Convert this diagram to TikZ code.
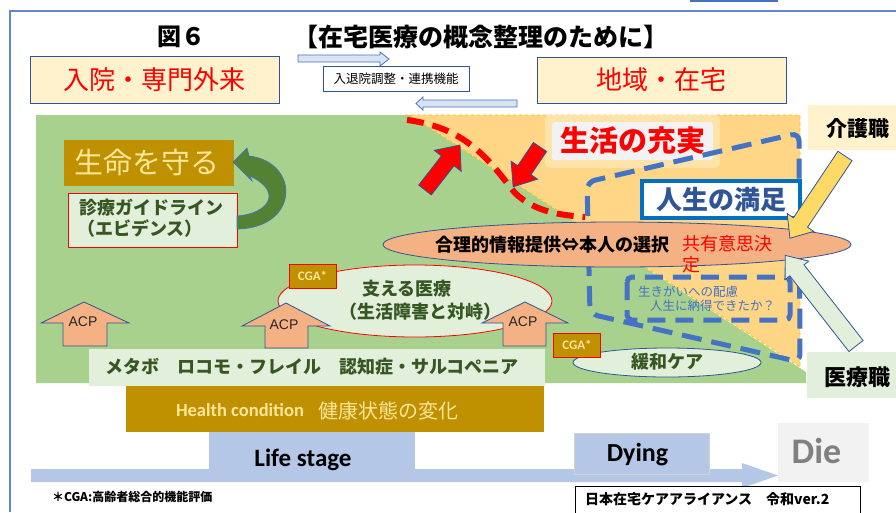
\documentclass[tikz,border=0pt]{standalone}
\usepackage{fontspec}
\setmainfont{Noto Sans CJK JP}
\newfontfamily\calfont{Carlito}
\newfontfamily\arifont{Liberation Sans}
\usetikzlibrary{shapes.geometric}
\newcommand\fsz[1]{\fontsize{#1}{#1}\selectfont}
\newcommand\BlkArr[7]{\begin{scope}[shift={#2},rotate=#3]\draw[#1] (0,-#5) -- ({#4-#7},-#5) -- ({#4-#7},-#6) -- (#4,0) -- ({#4-#7},#6) -- ({#4-#7},#5) -- (0,#5) -- cycle;\end{scope}}
\definecolor{bgGreen}{HTML}{A9D18E}
\definecolor{bgOrange}{HTML}{FFD686}
\definecolor{paleGreen}{HTML}{E2EFDA}
\definecolor{gold}{HTML}{BF9000}
\definecolor{paleYellow}{HTML}{FFE699}
\definecolor{cream}{HTML}{FFF2CC}
\definecolor{salmon}{HTML}{F4B183}
\definecolor{lightBlue}{HTML}{B4C7E7}
\definecolor{midBlue}{HTML}{4472C4}
\definecolor{darkBlue}{HTML}{2F5597}
\definecolor{boxBlue}{HTML}{0070C0}
\definecolor{darkGreen}{HTML}{375623}
\definecolor{arrowGreen}{HTML}{548235}
\definecolor{paleBlue}{HTML}{DAE3F3}
\definecolor{yellowArrow}{HTML}{FFD966}
\definecolor{glow}{HTML}{FFE3A8}
\definecolor{gray95}{HTML}{F2F2F2}
\definecolor{orangeEdge}{HTML}{FFC000}
\begin{document}
\begin{tikzpicture}[x=1pt,y=-1pt,
  every node/.style={inner sep=0pt,outer sep=0pt},
  placebox/.style={draw=darkBlue, fill=cream, line width=0.8pt, text=red, font=\fsz{26}},
  smallarr/.style={draw=midBlue, fill=paleBlue, line width=0.8pt},
  redarr/.style={draw=darkBlue, fill=red, line width=0.8pt},
  acp/.style={draw=darkBlue, fill=salmon, line width=0.8pt},
  acptext/.style={font=\arifont\fsz{14}, text=black!85},
  greentext/.style={font=\fsz{18}\bfseries, text=darkGreen},
  cga/.style={draw=red, fill=gold, line width=0.8pt, minimum width=47, minimum height=24, font=\calfont\fsz{13}\bfseries, text=paleYellow},
  bigdash/.style={midBlue, line width=5pt, dash pattern=on 20pt off 10pt},
  caltext/.style={font=\calfont\fsz{25}\bfseries}]
\useasboundingbox (0,0) rectangle (896,512);
\fill[white] (0,0) rectangle (896,512);

% frame
\draw[midBlue!85, line width=2pt] (10,512) -- (10,11) -- (896,11);
\draw[midBlue, line width=1.6pt] (690,1) -- (778,1);

% titles
\node[font=\fsz{24}\bfseries] (fig6) at (181,37) {図６};
\node[font=\fsz{25}\bfseries] (title) at (481,37) {【在宅医療の概念整理のために】};

\node[placebox, minimum width=249, minimum height=47] (hosp) at (154.5,79.5) {入院・専門外来};
\node[placebox, minimum width=249, minimum height=46] (home) at (661.5,80) {地域・在宅};

\draw[smallarr] (298,55) -- (380,55) -- (380,52) -- (389,59) -- (380,66) -- (380,62) -- (298,62) -- cycle;
\node[draw=darkBlue, fill=white, line width=0.8pt, minimum width=146, minimum height=25, font=\fsz{12.5}] (coord) at (396,79) {入退院調整・連携機能};
\draw[smallarr] (517,100) -- (423,100) -- (423,97) -- (416,103.5) -- (423,110) -- (423,107) -- (517,107) -- cycle;

% regions
\fill[bgGreen] (36,115) -- (410,115) -- (806,372) -- (806,383) -- (36,383) -- cycle;
\fill[bgOrange] (410,115) -- (800,115) -- (800,367) -- cycle;
\draw[orangeEdge, dashed, line width=0.8pt] (405,115) -- (800,115) -- (800,367) -- (410,115);

% life / protect
\node[fill=gold, minimum width=170, minimum height=46] (protbox) at (149,163) {};
\node[font=\fsz{29}, text=paleYellow] (prottext) at (147,162) {生命を守る};
\node[draw=red, fill=paleGreen, line width=0.8pt, minimum width=169, minimum height=54] (guide) at (152.5,220) {};
\node[greentext, anchor=west] (guide1) at (79,208) {診療ガイドライン};
\node[greentext, anchor=west] (guide2) at (77,229) {（エビデンス）};
\draw[draw=midBlue, fill=arrowGreen, line width=0.7pt] (237,216) .. controls (268,214) and (284,192) .. (250,176) -- (252,181) -- (233,162) -- (247,148) -- (249,156) .. controls (300,162) and (300,228) .. (237,229) -- cycle;

% fulfilment
\fill[glow, rounded corners=5] (545,115) rectangle (720,168);
\node[fill=gray95, rounded corners=3, minimum width=161, minimum height=38, text=red, font=\fsz{29}\bfseries] (fulfil) at (632.5,141) {生活の充実};

\draw[red, line width=6pt, dash pattern=on 17pt off 9pt] (407,120) .. controls (470,128) and (492,165) .. (515,193) .. controls (535,212) and (560,215) .. (585,217);
\BlkArr{redarr}{(425,190)}{52.1}{57}{8}{17}{20}
\BlkArr{redarr}{(540,147)}{-124}{48}{8}{16}{20}

\draw[bigdash, rounded corners=8] (590,314) -- (587,182) -- (799,133) -- (800,362) -- cycle;

\node[draw=boxBlue, line width=4pt, fill=white, minimum width=158, minimum height=37, text=darkBlue, font=\fsz{26}\bfseries] (satis) at (721,199.5) {人生の満足};

% shared decision
\node[ellipse, draw=darkBlue, fill=salmon, line width=0.8pt, minimum width=468, minimum height=45] (sdm) at (617,244.5) {};
\node[font=\fsz{18}\bfseries] (sdmtext) at (552,245) {合理的情報提供⇔本人の選択};
\node[font=\fsz{18}, text=red, anchor=west] (share1) at (682,244) {共有意思決};
\node[font=\fsz{18}, text=red, anchor=west] (share2) at (682,265) {定};

\draw[midBlue, line width=5pt, dash pattern=on 18pt off 10pt, rounded corners=5] (627,277) rectangle (790,320);
\node[font=\fsz{12.5}, text=midBlue, anchor=west] (ikigai) at (638,292) {生きがいへの配慮};
\node[font=\fsz{12.5}, text=midBlue, anchor=west] (nattoku) at (650,306) {人生に納得できたか？};

% supporting care
\node[ellipse, draw=red, fill=paleGreen, line width=0.8pt, minimum width=274, minimum height=72] (support) at (415,301) {};
\node[greentext] (sup1) at (407,289) {支える医療};
\node[greentext] (sup2) at (420,312) {（生活障害と対峙）};
\node[cga] (cga1) at (312.5,276) {CGA*};

\draw[acp] (63,346) -- (63,323) -- (41,323) -- (84,302) -- (129,323) -- (107,323) -- (107,346) -- cycle;
\node[acptext] (acp1) at (83,322) {ACP};
\draw[acp] (265,348) -- (265,326) -- (242,326) -- (286,303) -- (330,326) -- (308,326) -- (308,348) -- cycle;
\node[acptext] (acp2) at (284,325) {ACP};
\draw[acp] (503,346) -- (503,323) -- (482,323) -- (525,302) -- (568,323) -- (546,323) -- (546,346) -- cycle;
\node[acptext] (acp3) at (523,322) {ACP};

\node[ellipse, draw=darkBlue, fill=paleGreen, line width=0.8pt, minimum width=188, minimum height=29] (pall) at (667,362.5) {};
\node[greentext] (palltext) at (667,362) {緩和ケア};
\node[cga] (cga2) at (577,345) {CGA*};

% conditions
\node[fill=paleGreen, minimum width=456, minimum height=37] (metabobox) at (317,367.5) {};
\node[greentext, anchor=west] (metabo) at (105,367) {メタボ　ロコモ・フレイル　認知症・サルコペニア};
\node[fill=gold, minimum width=418, minimum height=46] (healthbox) at (335,409) {};
\node[font={\calfont\fsz{18.5}\bfseries}, text=paleYellow, anchor=west] (health1) at (176,410) {Health condition};
\node[font=\fsz{20}, text=paleYellow, anchor=west] (health2) at (318,411) {健康状態の変化};

% timeline
\fill[lightBlue] (31,469) -- (742,469) -- (742,463) -- (778,475.5) -- (742,488) -- (742,482) -- (31,482) -- cycle;
\node[fill=lightBlue, minimum width=206, minimum height=38] (lifebox) at (312,450.5) {};
\node[caltext, anchor=base] (lifetext) at (303,466) {Life stage};
\node[fill=lightBlue, draw=gray!35, line width=0.8pt, minimum width=135, minimum height=41] (dyingbox) at (641.5,453.5) {};
\node[font={\calfont\fsz{26}\bfseries}, anchor=base] (dyingtext) at (637.5,461) {Dying};
\node[fill=gray95, minimum width=91, minimum height=59] (diebox) at (823.5,452.5) {};
\node[font={\calfont\fsz{36}\bfseries}, text=black!50, anchor=base] (dietext) at (816.5,463) {Die};

% footer
\node[font=\fsz{12}\bfseries, anchor=west] (note) at (52,497) {＊CGA:高齢者総合的機能評価};
\node[draw=black, fill=white, line width=0.8pt, minimum width=285, minimum height=30, anchor=north west] (alliancebox) at (575,486) {};
\node[font=\fsz{14}\bfseries, anchor=west] (alliance) at (585,499) {日本在宅ケアアライアンス　令和ver.2};

% professions
\BlkArr{draw=darkBlue, fill=yellowArrow, line width=0.8pt}{(845,156)}{-123.8}{99}{8.5}{16}{19}
\BlkArr{draw=darkBlue, fill=paleGreen, line width=0.8pt}{(856,346)}{128}{115}{9}{15}{19}
\node[fill=cream, minimum width=90, minimum height=45, anchor=north west] (carebox) at (808,105) {};
\node[font=\fsz{21}\bfseries] (care) at (858,129) {介護職};
\node[fill=paleGreen, minimum width=90, minimum height=46, anchor=north west] (medbox) at (807,352) {};
\node[font=\fsz{22}\bfseries] (med) at (857,377) {医療職};
\end{tikzpicture}
\end{document}
